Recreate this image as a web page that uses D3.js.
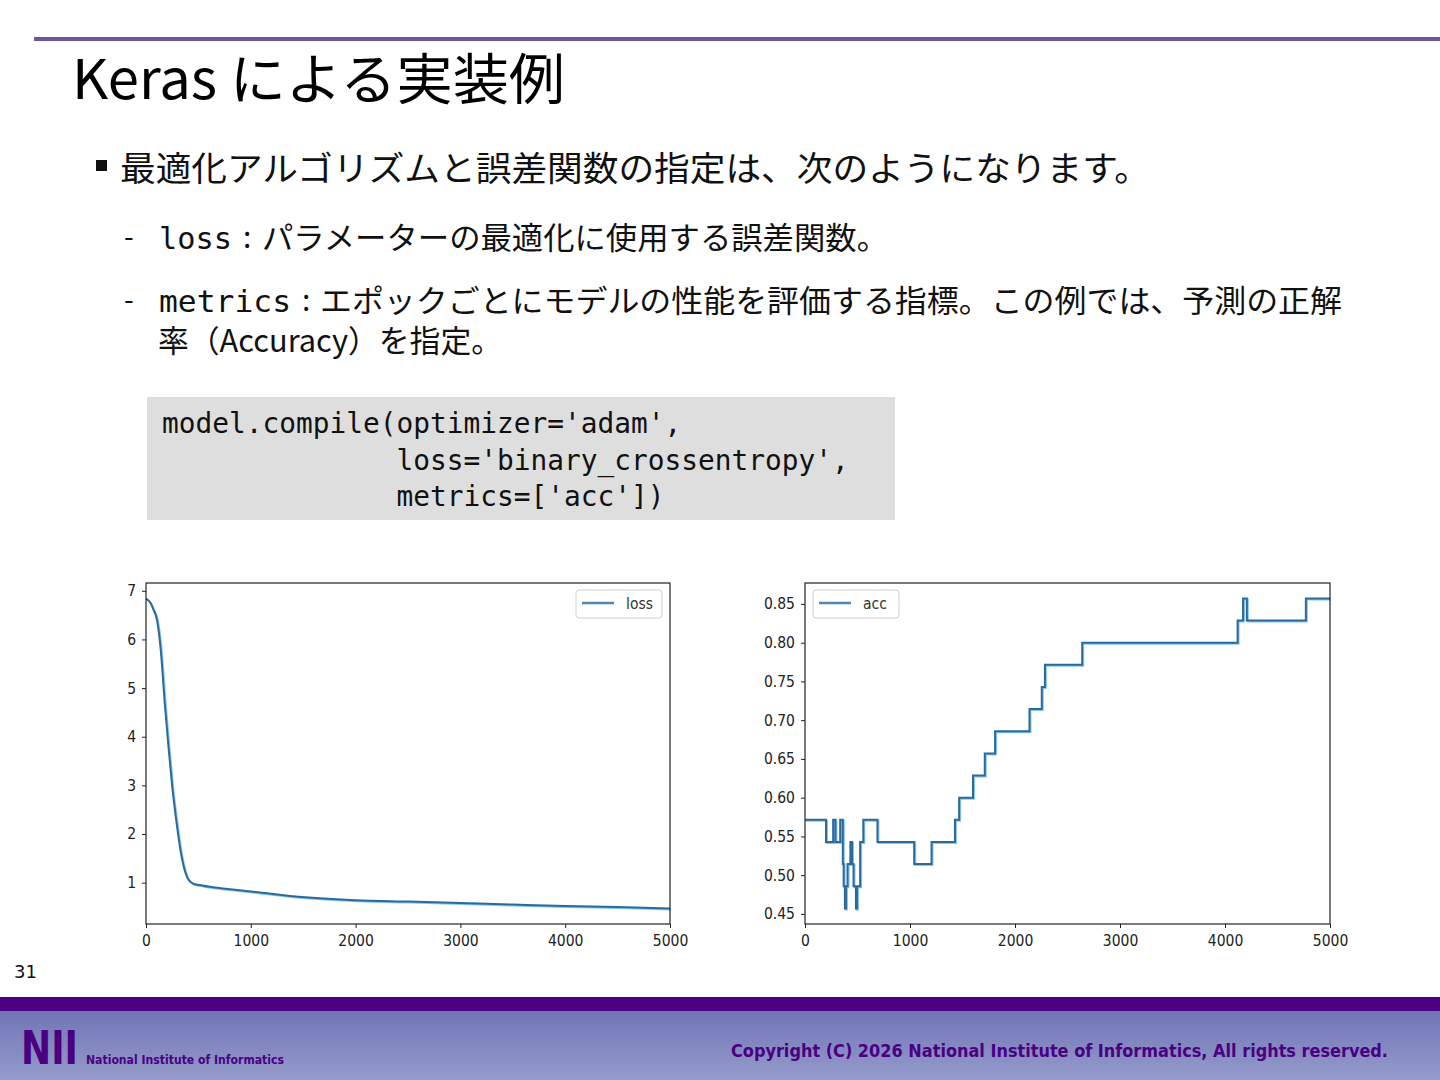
<!DOCTYPE html>
<html lang="ja">
<head>
<meta charset="UTF-8">
<title>Keras による実装例</title>
<script src="https://d3js.org/d3.v7.min.js"></script>
<style>
    body { margin: 0; background: #fff; }
    svg { display: block; }
    .jp { font-family: "Noto Sans CJK JP", "Noto Sans", sans-serif; fill: #111; }
    .mono { font-family: "DejaVu Sans Mono", "Liberation Mono", monospace; fill: #111; }
    .tick text { font-family: "DejaVu Sans Condensed", "DejaVu Sans", sans-serif; font-size: 15.5px; fill: #222; }
</style>
</head>
<body>
<svg id="slide" width="1440" height="1080"></svg>
<script>
// loss curve
const lossEpochs = [0, 40, 70, 105, 140, 180, 215, 250, 290, 325, 360, 400, 450, 510, 700, 1000, 1400, 2000, 2500, 3000, 3500, 4000, 4500, 5000];
const lossValues = [6.84, 6.76, 6.62, 6.40, 5.80, 4.66, 3.78, 2.98, 2.26, 1.72, 1.33, 1.08, 0.98, 0.95, 0.89, 0.82, 0.72, 0.64, 0.61, 0.58, 0.55, 0.52, 0.50, 0.47];

// accuracy steps: epoch where the value changes, value = correct / 35
const accEpochs = [0, 200, 268, 290, 335, 360, 368, 380, 390, 405, 432, 448, 462, 485, 495, 525, 555, 690, 1040, 1205, 1428, 1468, 1600, 1712, 1810, 2138, 2255, 2285, 2640, 4120, 4172, 4208, 4770, 5000];
const accValues = [0.5714, 0.5429, 0.5714, 0.5429, 0.5714, 0.5143, 0.4857, 0.4571, 0.4857, 0.5143, 0.5429, 0.5143, 0.4857, 0.4571, 0.4857, 0.5429, 0.5714, 0.5429, 0.5143, 0.5429, 0.5714, 0.6000, 0.6286, 0.6571, 0.6857, 0.7143, 0.7429, 0.7714, 0.8000, 0.8286, 0.8571, 0.8286, 0.8571, 0.8571];

const xTicks = [0, 1000, 2000, 3000, 4000, 5000];
const lossTicks = [1, 2, 3, 4, 5, 6, 7];
const accTicks = [0.45, 0.50, 0.55, 0.60, 0.65, 0.70, 0.75, 0.80, 0.85];

const svg = d3.select("#slide");
const purple = "#4b0082";

// header rule and title
svg.append("rect").attr("x", 34).attr("y", 37).attr("width", 1406).attr("height", 4).attr("fill", "#6e559d");
svg.append("text").attr("class", "jp").attr("x", 72).attr("y", 99)
    .attr("font-size", 55).attr("textLength", 493).attr("lengthAdjust", "spacingAndGlyphs")
    .style("fill", "#000").text("Keras による実装例");

// main bullet
svg.append("rect").attr("x", 96).attr("y", 160).attr("width", 11).attr("height", 11).attr("fill", "#111");
svg.append("text").attr("class", "jp").attr("x", 120).attr("y", 181)
    .attr("font-size", 34).attr("textLength", 1030).attr("lengthAdjust", "spacingAndGlyphs")
    .text("最適化アルゴリズムと誤差関数の指定は、次のようになります。");

// sub bullets
const subs = [
    {y: 249, code: "loss", codeW: 73, colonX: 243, txtX: 262, txtW: 626, txt: "パラメーターの最適化に使用する誤差関数。"},
    {y: 312, code: "metrics", codeW: 132, colonX: 302, txtX: 320, txtW: 1022, txt: "エポックごとにモデルの性能を評価する指標。この例では、予測の正解"}
];
subs.forEach(function(s) {
    svg.append("text").attr("class", "jp").attr("x", 124).attr("y", s.y - 2).attr("font-size", 28).text("-");
    svg.append("text").attr("class", "mono").attr("x", 159).attr("y", s.y)
        .attr("font-size", 30).attr("textLength", s.codeW).attr("lengthAdjust", "spacingAndGlyphs").text(s.code);
    svg.append("text").attr("class", "jp").attr("x", s.colonX).attr("y", s.y - 1).attr("font-size", 30).text(":");
    svg.append("text").attr("class", "jp").attr("x", s.txtX).attr("y", s.y)
        .attr("font-size", 31).attr("textLength", s.txtW).attr("lengthAdjust", "spacingAndGlyphs").text(s.txt);
});
svg.append("text").attr("class", "jp").attr("x", 158).attr("y", 352)
    .attr("font-size", 31).attr("textLength", 344).attr("lengthAdjust", "spacingAndGlyphs")
    .text("率（Accuracy）を指定。");

// code block
svg.append("rect").attr("x", 147).attr("y", 397).attr("width", 748).attr("height", 123).attr("fill", "#dedede");
const codeLines = [
    {indent: 0, txt: "model.compile(optimizer='adam',"},
    {indent: 14, txt: "loss='binary_crossentropy',"},
    {indent: 14, txt: "metrics=['acc'])"}
];
const charW = 16.75;
codeLines.forEach(function(c, i) {
    svg.append("text").attr("class", "mono").attr("x", 162 + c.indent * charW).attr("y", 433 + i * 36.5)
        .attr("font-size", 27.8).attr("textLength", c.txt.length * charW).attr("lengthAdjust", "spacingAndGlyphs")
        .text(c.txt);
});

// charts
function drawChart(opts) {
    const g = svg.append("g");
    const x = d3.scaleLinear().domain([0, 5000]).range([opts.left, opts.right]);
    const y = d3.scaleLinear().domain(opts.yDomain).range([924, 583]);

    g.append("g").attr("transform", "translate(0,924)")
        .call(d3.axisBottom(x).tickValues(xTicks).tickSize(4).tickPadding(7).tickFormat(d3.format("d")))
        .call(a => a.select(".domain").remove());
    g.append("g").attr("transform", "translate(" + opts.left + ",0)")
        .call(d3.axisLeft(y).tickValues(opts.yTicks).tickSize(4).tickPadding(6).tickFormat(opts.yFormat))
        .call(a => a.select(".domain").remove());
    g.selectAll(".tick line").attr("stroke", "#222");

    const line = d3.line().x((d, i) => x(opts.xs[i])).y(d => y(d)).curve(opts.curve);
    g.append("path").datum(opts.ys).attr("d", line).attr("fill", "none")
        .attr("stroke", "#86c6ef").attr("stroke-width", 2).attr("transform", "translate(1,1)");
    g.append("path").datum(opts.ys).attr("d", line).attr("fill", "none")
        .attr("stroke", "#2c6a9c").attr("stroke-width", 2);

    g.append("rect").attr("x", opts.left).attr("y", 583).attr("width", opts.right - opts.left).attr("height", 341)
        .attr("fill", "none").attr("stroke", "#222").attr("stroke-width", 1.2);

    // legend
    const lg = g.append("g").attr("transform", "translate(" + opts.legendX + ",590)");
    lg.append("rect").attr("width", 86).attr("height", 28).attr("rx", 3)
        .attr("fill", "#fff").attr("stroke", "#d0d0d0");
    lg.append("line").attr("x1", 6).attr("x2", 38).attr("y1", 13).attr("y2", 13)
        .attr("stroke", "#4f86b2").attr("stroke-width", 2.5);
    lg.append("text").attr("x", 50).attr("y", 19).attr("font-size", 15.5)
        .style("font-family", "\"DejaVu Sans Condensed\", \"DejaVu Sans\", sans-serif").style("fill", "#333")
        .text(opts.name);
}

drawChart({
    name: "loss", left: 146, right: 670, legendX: 576,
    yDomain: [0.15, 7.16], yTicks: lossTicks, yFormat: d3.format("d"),
    xs: lossEpochs, ys: lossValues, curve: d3.curveMonotoneX
});
drawChart({
    name: "acc", left: 805, right: 1330, legendX: 813,
    yDomain: [0.437, 0.877], yTicks: accTicks, yFormat: d3.format(".2f"),
    xs: accEpochs, ys: accValues, curve: d3.curveStepAfter
});

// page number
svg.append("text").attr("x", 14).attr("y", 978).attr("font-size", 18)
    .style("font-family", "\"DejaVu Sans\", sans-serif").style("fill", "#111").text("31");

// footer
const defs = svg.append("defs");
const grad = defs.append("linearGradient").attr("id", "foot").attr("x1", 0).attr("y1", 0).attr("x2", 0).attr("y2", 1);
grad.append("stop").attr("offset", "0%").attr("stop-color", "#7174b6");
grad.append("stop").attr("offset", "100%").attr("stop-color", "#959ccb");
svg.append("rect").attr("x", 0).attr("y", 1011).attr("width", 1440).attr("height", 69).attr("fill", "url(#foot)");
svg.append("rect").attr("x", 0).attr("y", 997).attr("width", 1440).attr("height", 14).attr("fill", purple);

svg.append("text").attr("x", 21).attr("y", 1064).attr("font-size", 47).attr("font-weight", "bold")
    .attr("textLength", 57).attr("lengthAdjust", "spacingAndGlyphs")
    .style("font-family", "\"DejaVu Sans\", sans-serif").style("fill", purple).text("NII");
svg.append("text").attr("x", 86).attr("y", 1064).attr("font-size", 13).attr("font-weight", "bold")
    .attr("textLength", 198).attr("lengthAdjust", "spacingAndGlyphs")
    .style("font-family", "\"DejaVu Sans\", sans-serif").style("fill", purple).text("National Institute of Informatics");
svg.append("text").attr("x", 731).attr("y", 1057).attr("font-size", 17).attr("font-weight", "bold")
    .attr("textLength", 657).attr("lengthAdjust", "spacingAndGlyphs")
    .style("font-family", "\"DejaVu Sans\", sans-serif").style("fill", purple)
    .text("Copyright (C) 2026 National Institute of Informatics, All rights reserved.");
</script>
</body>
</html>
